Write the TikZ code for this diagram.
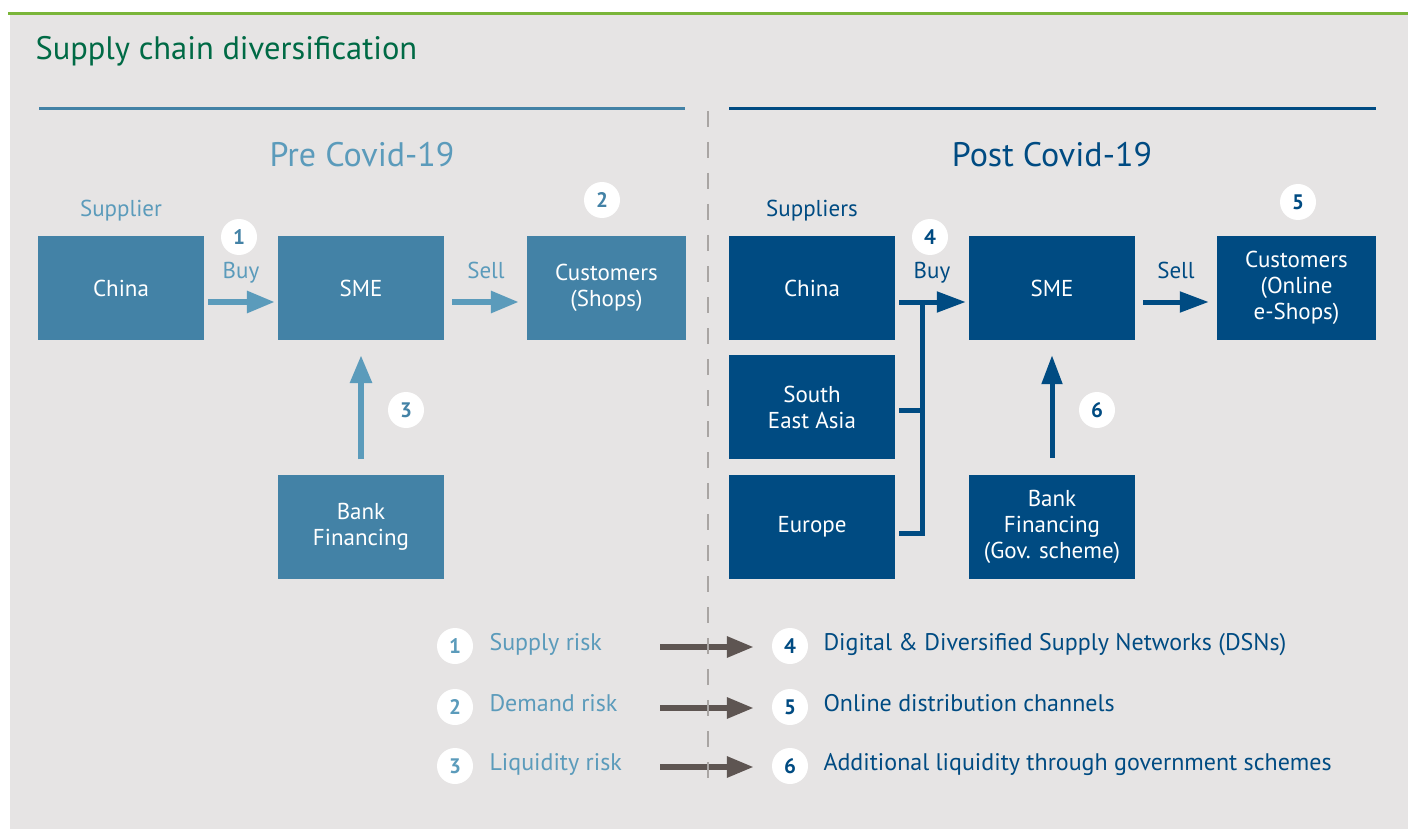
\documentclass[tikz,border=0pt]{standalone}
\usepackage{fontspec}
\setmainfont{PT Sans}
\usetikzlibrary{arrows.meta}

\definecolor{pagegray}{HTML}{E6E4E4}
\definecolor{topgreen}{HTML}{7AB539}
\definecolor{titlegreen}{HTML}{006A45}
\definecolor{preblue}{HTML}{4382A6}
\definecolor{pretext}{HTML}{5B9BBB}
\definecolor{postblue}{HTML}{004B82}
\definecolor{riskarrow}{HTML}{5E5552}
\definecolor{divgray}{HTML}{A9A5A3}

\begin{document}
\begin{tikzpicture}[x=1pt,y=-1pt,
  every node/.style={font=\fontsize{23}{26}\selectfont},
  prebox/.style={fill=preblue,text=white,minimum width=166pt,minimum height=104pt,align=center,inner sep=0pt},
  postbox/.style={prebox,fill=postblue},
  num/.style={circle,fill=white,minimum size=36pt,inner sep=0pt,font=\fontsize{21}{21}\selectfont\bfseries},
  prearrow/.style={line width=6pt,pretext,-{Triangle[length=28pt,width=21pt]}},
  postarrow/.style={line width=5pt,postblue,-{Triangle[length=29pt,width=20pt]}},
  riskarr/.style={line width=6pt,riskarrow,-{Triangle[length=27pt,width=20pt]}}]
\useasboundingbox (0,0) rectangle (1408,829);
\fill[pagegray] (10,14) rectangle (1408,829);
\draw[topgreen,line width=3pt] (8,13.5) -- (1408,13.5);
\node[anchor=base west,text=titlegreen,font=\fontsize{32.5}{32.5}\selectfont] (title) at (32,60) {Supply chain diversification};

% headers
\draw[preblue,line width=3pt] (39,109) -- (685,109);
\draw[postblue,line width=3pt] (729,109) -- (1376,109);
\node[anchor=base,text=pretext,font=\fontsize{34}{34}\selectfont] (pre) at (362,167) {Pre Covid-19};
\node[anchor=base,text=postblue,font=\fontsize{34}{34}\selectfont] (post) at (1052,167) {Post Covid-19};

% pre covid
\node[prebox] (chn1) at (121,288) {China};
\node[prebox] (sme1) at (361,288) {SME};
\node[prebox,minimum width=159pt] (cus1) at (606.5,288) {Customers\\(Shops)};
\node[prebox] (bnk1) at (361,526.5) {Bank\\Financing};
\node[anchor=base,text=pretext] at (121,217) {Supplier};
\node[anchor=base,text=pretext] at (241,278) {Buy};
\node[anchor=base,text=pretext] at (486,278) {Sell};
\node[num,text=preblue] (n1) at (239,237) {1};
\node[num,text=preblue] (n2) at (602,200) {2};
\node[num,text=preblue] (n3) at (406,410) {3};
\draw[prearrow,shorten <=4pt,shorten >=3pt] ([yshift=-14pt]chn1.east) -- ([yshift=-14pt]sme1.west);
\draw[prearrow,shorten <=8pt,shorten >=8pt] ([yshift=-14pt]sme1.east) -- ([yshift=-14pt]cus1.west);
\draw[prearrow,shorten <=15pt,shorten >=15pt] (bnk1.north) -- (sme1.south);

% post covid
\node[postbox] (chn2) at (812,288) {China};
\node[postbox] (sea) at (812,407) {South\\East Asia};
\node[postbox] (eur) at (812,527) {Europe};
\node[postbox] (sme2) at (1052,288) {SME};
\node[postbox,minimum width=159pt] (cus2) at (1296.5,288) {Customers\\(Online\\e-Shops)};
\node[postbox] (bnk2) at (1052,527) {Bank\\Financing\\(Gov. scheme)};
\node[anchor=base,text=postblue] at (812,217) {Suppliers};
\node[anchor=base,text=postblue] at (932,278) {Buy};
\node[anchor=base,text=postblue] at (1176,278) {Sell};
\node[num,text=postblue] (n4) at (930,237) {4};
\node[num,text=postblue] (n5) at (1298,202) {5};
\node[num,text=postblue] (n6) at (1097,410) {6};
\coordinate (bus) at (922,302);
\draw[postblue,line width=5pt] ([xshift=4pt,yshift=-3pt]sea.east) -- ([yshift=-3pt]sea.east -| bus);
\draw[postblue,line width=5pt] ([xshift=4pt,yshift=-6pt]eur.east) -| (bus);
\draw[postarrow,shorten <=4pt,shorten >=3pt] ([yshift=-14pt]chn2.east) -- ([yshift=-14pt]sme2.west);
\draw[postarrow,shorten <=8pt,shorten >=8pt] ([yshift=-14pt]sme2.east) -- ([yshift=-14pt]cus2.west);
\draw[postarrow,shorten <=17pt,shorten >=15pt] (bnk2.north) -- (sme2.south);

% risks and answers
\foreach \y/\a/\b/\ra/\rb in {646/1/4/Supply risk/Digital \& Diversified Supply Networks (DSNs),
    707/2/5/Demand risk/Online distribution channels,
    766/3/6/Liquidity risk/Additional liquidity through government schemes}{
  \node[num,text=pretext] (r\a) at (455,\y) {\a};
  \node[anchor=base west,text=pretext,font=\fontsize{24}{24}\selectfont] (r\a t) at (486,\y+4) {\ra};
  \node[num,text=postblue] (s\b) at (790,\y) {\b};
  \node[anchor=base west,text=postblue,font=\fontsize{24}{24}\selectfont] (s\b t) at (820,\y+4) {\rb};
  \coordinate (a\a) at (660,\y+1);
  \draw[riskarr,shorten >=18pt] (a\a) -- (a\a -| s\b.west);
}

% divider
\draw[divgray,line width=2pt,dash pattern=on 16pt off 15pt] (708,111) -- (708,790);
\end{tikzpicture}
\end{document}
